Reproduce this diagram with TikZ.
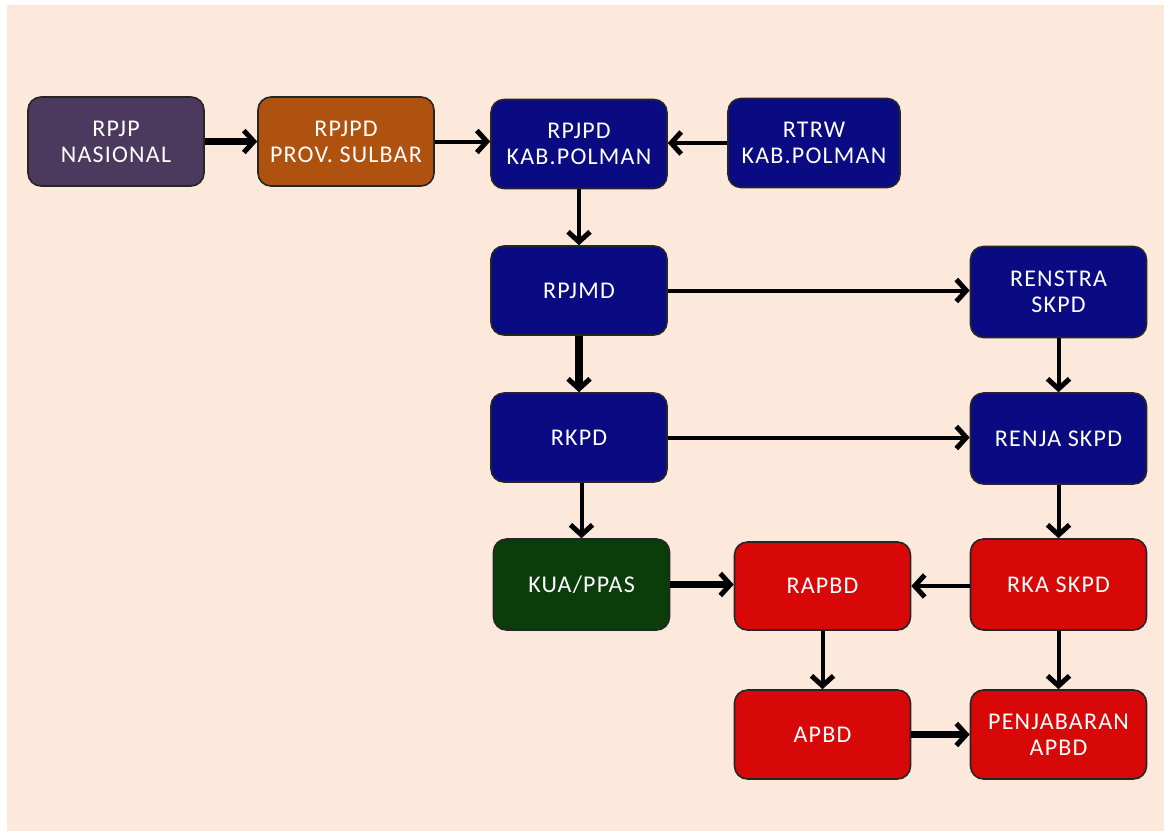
\documentclass[tikz,border=0pt]{standalone}
\usepackage{fontspec}
\setmainfont{Carlito}[LetterSpace=5]
\usetikzlibrary{arrows.meta}
\definecolor{bgpeach}{HTML}{FDE9DB}
\definecolor{cpurple}{HTML}{4B3A5E}
\definecolor{corange}{HTML}{B0520F}
\definecolor{cnavy}{HTML}{0A0A82}
\definecolor{cgreen}{HTML}{0B3D0B}
\definecolor{cred}{HTML}{D80808}
\tikzset{
  box/.style={draw=black!85, line width=1.6pt, rounded corners=13pt,
    minimum width=176pt, minimum height=89pt, inner sep=2pt,
    text=white, align=center, font=\fontsize{24}{26}\selectfont},
  thin arrow/.style={line width=4pt, -{Straight Barb[length=10pt,width=22pt,line width=5pt]}},
  thick arrow/.style={line width=7.5pt, -{Straight Barb[length=10pt,width=22pt,line width=5pt]}}
}
\begin{document}
\begin{tikzpicture}[x=1pt,y=-1pt]
\useasboundingbox (0,0) rectangle (1164,831);
\fill[white] (0,0) rectangle (1164,831);
\fill[bgpeach] (7,5) rectangle (1164,831);

\node[box, fill=cpurple] (rpjp) at (116,141.5) {RPJP\\NASIONAL};
\node[box, fill=corange] (prov) at (346,141.5) {RPJPD\\PROV. SULBAR};
\node[box, fill=cnavy] (kab) at (579,144) {RPJPD\\KAB.POLMAN};
\node[box, fill=cnavy, minimum width=172pt] (rtrw) at (814,143) {RTRW\\KAB.POLMAN};
\node[box, fill=cnavy] (rpjmd) at (579,290.5) {RPJMD};
\node[box, fill=cnavy, minimum height=91pt] (renstra) at (1058.5,292) {RENSTRA\\SKPD};
\node[box, fill=cnavy] (rkpd) at (579,437.5) {RKPD};
\node[box, fill=cnavy, minimum height=91pt] (renja) at (1058.5,438.5) {RENJA SKPD};
\node[box, fill=cgreen, minimum height=91pt] (kua) at (581.5,584.5) {KUA/PPAS};
\node[box, fill=cred, minimum height=88pt] (rapbd) at (822.5,586) {RAPBD};
\node[box, fill=cred, minimum height=91pt] (rka) at (1058.5,584.5) {RKA SKPD};
\node[box, fill=cred] (apbd) at (822.5,734.5) {APBD};
\node[box, fill=cred] (penj) at (1058.5,734.5) {PENJABARAN\\APBD};

\draw[thick arrow] (rpjp.east) -- (prov.west);
\draw[thin arrow] (prov.east) -- (kab.west |- prov.east);
\draw[thin arrow] (rtrw.west) -- (kab.east |- rtrw.west);
\draw[thin arrow] (kab.south) -- (rpjmd.north);
\draw[thin arrow] (rpjmd.east) -- (renstra.west |- rpjmd.east);
\draw[thick arrow] (rpjmd.south) -- (rkpd.north);
\draw[thin arrow] (renstra.south) -- (renja.north);
\draw[thin arrow] (rkpd.east) -- (renja.west |- rkpd.east);
\draw[thin arrow] (rkpd.south -| kua.north) -- (kua.north);
\draw[thin arrow] (renja.south) -- (rka.north);
\draw[thick arrow] (kua.east) -- (rapbd.west |- kua.east);
\draw[thin arrow] (rka.west |- rapbd.east) -- (rapbd.east);
\draw[thin arrow] (rapbd.south) -- (apbd.north);
\draw[thin arrow] (rka.south) -- (penj.north);
\draw[thick arrow] (apbd.east) -- (penj.west);
\end{tikzpicture}
\end{document}
